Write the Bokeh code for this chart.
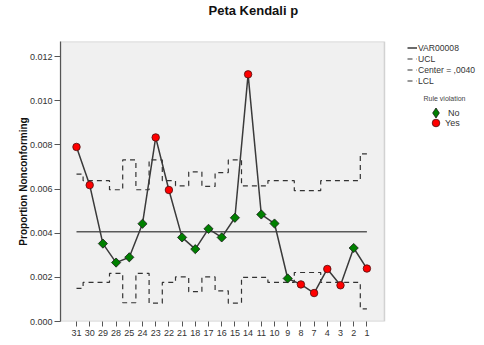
import math
from bokeh.plotting import figure
from bokeh.models import (Range1d, FixedTicker, NumeralTickFormatter, Legend, LegendItem,
                          Label, BoxAnnotation, Title)
from bokeh.embed import file_html
from bokeh.resources import INLINE

# ---- data ----
categories = ["31", "30", "29", "28", "25", "24", "23", "22", "21", "18", "17", "16",
              "15", "14", "11", "10", "9", "8", "7", "4", "3", "2", "1"]
proportion = [0.00791, 0.00618, 0.00353, 0.00267, 0.00291, 0.00443, 0.00834, 0.00596,
              0.00381, 0.00328, 0.00420, 0.00381, 0.00470, 0.01120, 0.00485, 0.00444,
              0.00195, 0.00168, 0.00129, 0.00238, 0.00164, 0.00333, 0.00240]
violation = ["Yes", "Yes", "No", "No", "No", "No", "Yes", "Yes", "No", "No", "No", "No",
             "No", "Yes", "No", "No", "No", "Yes", "Yes", "Yes", "Yes", "No", "Yes"]
ucl = [0.00668, 0.00638, 0.00638, 0.00597, 0.00732, 0.00597, 0.00732, 0.00638, 0.00615,
       0.00678, 0.00612, 0.00675, 0.00732, 0.00615, 0.00615, 0.00638, 0.00638, 0.00593,
       0.00593, 0.00638, 0.00638, 0.00638, 0.00760]
lcl = [0.00150, 0.00177, 0.00177, 0.00218, 0.00085, 0.00218, 0.00083, 0.00177, 0.00202,
       0.00135, 0.00202, 0.00139, 0.00083, 0.00200, 0.00200, 0.00177, 0.00177, 0.00222,
       0.00222, 0.00177, 0.00177, 0.00177, 0.00057]
center_value = 0.00407
center_label = "Center = ,0040"
y_ticks = [0.0, 0.002, 0.004, 0.006, 0.008, 0.010, 0.012]

idx = list(range(len(categories)))
FONT = "Liberation Sans"
X0, X_PLOT_END, X1 = -1.212, 23.333, 30.303
Y_TOP = 0.012688

p = figure(output_backend="svg", toolbar_location=None,
           frame_width=416, frame_height=280,
           min_border_left=60, min_border_right=0, min_border_top=41, min_border_bottom=16,
           x_range=Range1d(X0, X1), y_range=Range1d(0, Y_TOP),
           background_fill_color="white", border_fill_color="white")

p.title.text = "Peta Kendali p"
p.title.text_font = FONT
p.title.text_font_size = "13px"
p.title.text_font_style = "bold"
p.title.text_color = "#111111"
p.title.align = "left"
p.title.offset = 148
p.title.standoff = 0
# spacing panel between the title and the plot area
p.add_layout(Title(text=" ", text_font_size="1px", standoff=21), "above")

p.outline_line_color = None
p.grid.visible = False

# plot area panel (grey box with border)
p.add_layout(BoxAnnotation(left=None, right=X_PLOT_END, top=None, bottom=None,
                           fill_color="#f0f0f0", fill_alpha=1,
                           line_color="#7a7a7a", line_width=1.5, level="underlay"))

# axes
p.xaxis.ticker = FixedTicker(ticks=idx)
p.xaxis.major_label_overrides = {i: c for i, c in zip(idx, categories)}
p.yaxis.ticker = FixedTicker(ticks=y_ticks)
p.yaxis.formatter = NumeralTickFormatter(format="0.000")
for ax in (p.xaxis[0], p.yaxis[0]):
    ax.axis_line_color = "#555555"
    ax.axis_line_width = 1.2
    ax.major_tick_line_color = "#555555"
    ax.major_tick_in = 0
    ax.minor_tick_line_color = None
    ax.major_label_text_font = FONT
    ax.major_label_text_font_size = "9px"
    ax.major_label_text_color = "#333333"
p.xaxis.axis_line_color = None
p.xaxis.major_tick_out = 5
p.xaxis.major_label_standoff = 3
p.yaxis.major_tick_out = 6
p.yaxis.major_label_standoff = 2
p.yaxis.axis_label = "Proportion Nonconforming"
p.yaxis.axis_label_text_font = FONT
p.yaxis.axis_label_text_font_size = "10px"
p.yaxis.axis_label_text_font_style = "bold"
p.yaxis.axis_label_text_color = "#111111"
p.yaxis.axis_label_standoff = -2

# control limits
r_ucl = p.step(idx, ucl, mode="center", line_color="#333333", line_width=1.2, line_dash="5 4")
r_lcl = p.step(idx, lcl, mode="center", line_color="#333333", line_width=1.2, line_dash="5 4")
r_center = p.line([idx[0], idx[-1]], [center_value, center_value],
                  line_color="#5a5a5a", line_width=1.5)

# data line
r_line = p.line(idx, proportion, line_color="#3a3a3a", line_width=1.5)

no_x = [i for i, v in zip(idx, violation) if v == "No"]
no_y = [y for y, v in zip(proportion, violation) if v == "No"]
yes_x = [i for i, v in zip(idx, violation) if v == "Yes"]
yes_y = [y for y, v in zip(proportion, violation) if v == "Yes"]
# diamond key (sits under the rotated squares; used as the legend key)
r_no_key = p.scatter(no_x, no_y, marker="diamond", size=7, fill_color="#008000",
                     line_color="#1a1a1a", line_width=0.8)
r_no = p.scatter(no_x, no_y, marker="square", angle=math.pi / 4, size=6.5,
                 fill_color="#008000", line_color="#1a1a1a", line_width=0.8)
r_yes = p.scatter(yes_x, yes_y, marker="circle", size=7.5, fill_color="#ff0000",
                  line_color="#4a1010", line_width=0.8)

common = dict(orientation="vertical", background_fill_alpha=0, border_line_color=None,
              padding=0, margin=0, spacing=0, label_text_font=FONT,
              label_text_color="#333333")
leg1 = Legend(items=[LegendItem(label="VAR00008", renderers=[r_line]),
                     LegendItem(label="UCL", renderers=[r_ucl]),
                     LegendItem(label=center_label, renderers=[r_ucl]),
                     LegendItem(label="LCL", renderers=[r_lcl])],
              location=(347, 235), glyph_width=10, glyph_height=11,
              label_height=11, label_standoff=1, label_text_font_size="8.6px", **common)
leg_no = Legend(items=[LegendItem(label="No", renderers=[r_no_key])],
                location=(363, 196), glyph_width=25, glyph_height=25,
                label_height=25, label_standoff=-8, label_text_font_size="9px", **common)
leg_yes = Legend(items=[LegendItem(label="Yes", renderers=[r_yes])],
                 location=(366, 189), glyph_width=19, glyph_height=19,
                 label_height=19, label_standoff=-5, label_text_font_size="9px", **common)
p.add_layout(leg1, "center")
p.add_layout(leg_no, "center")
p.add_layout(leg_yes, "center")
p.add_layout(Label(x=384, y=223, x_units="screen", y_units="screen", text="Rule violation",
                   text_font=FONT, text_font_size="7px", text_align="center",
                   text_baseline="middle", text_color="#444444"))

open("out.html", "w").write(file_html(p, INLINE))
